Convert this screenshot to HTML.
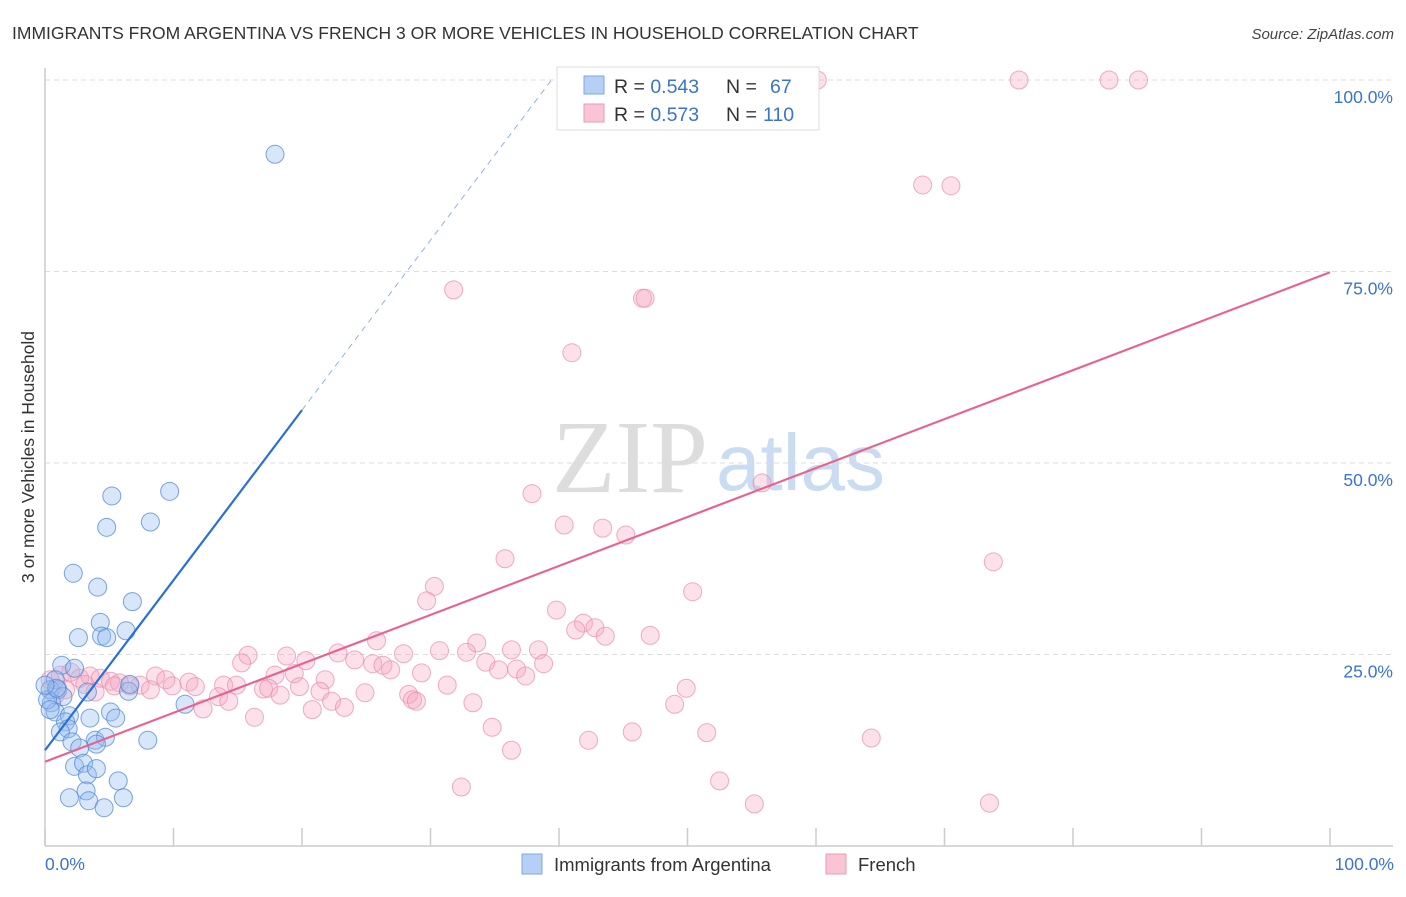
<!DOCTYPE html>
<html><head><meta charset="utf-8"><style>
body{margin:0;background:#fff;font-family:"Liberation Sans",sans-serif}
svg text{font-family:"Liberation Sans",sans-serif}
</style></head><body>
<svg id="chart" width="1406" height="892" xmlns="http://www.w3.org/2000/svg">
<text x="12" y="39" font-size="17.5" fill="#333">IMMIGRANTS FROM ARGENTINA VS FRENCH 3 OR MORE VEHICLES IN HOUSEHOLD CORRELATION CHART</text>
<text x="1394" y="39" font-size="15" fill="#444" text-anchor="end" font-style="italic">Source: ZipAtlas.com</text>
<g>
<text x="552" y="492" font-size="104" fill="#ddd" style="font-family:'Liberation Serif',serif">ZIP</text>
<text x="716" y="490" font-size="80" fill="#c9dcf2">atlas</text>
</g>
<g id="grid"></g>
<g id="axes"></g>
<g id="pts"></g>
<g id="trends"></g>
<text transform="translate(34,457) rotate(-90)" font-size="17.5" fill="#333" text-anchor="middle">3 or more Vehicles in Household</text>
<text x="45" y="870" font-size="17.5" fill="#3b73d0">0.0%</text>
<text x="1394" y="870" font-size="17.5" fill="#3b73d0" text-anchor="end">100.0%</text>
<g>
<rect x="557" y="67" width="262" height="63" fill="#fff" stroke="#ddd"/>
<rect x="584" y="76" width="20" height="18" fill="#b6d0f5" stroke="#7ea6e6"/>
<rect x="584" y="104" width="20" height="18" fill="#f9c5d5" stroke="#eb9ab4"/>
<text x="614" y="93" font-size="19.5" fill="#333">R = <tspan fill="#3b73d0">0.543</tspan><tspan x="726">N = </tspan><tspan x="770" fill="#3b73d0">67</tspan></text>
<text x="614" y="121" font-size="19.5" fill="#333">R = <tspan fill="#3b73d0">0.573</tspan><tspan x="726">N = </tspan><tspan x="763" fill="#3b73d0">110</tspan></text>
</g>
<g>
<rect x="522" y="854" width="20" height="20" fill="#b6d0f5" stroke="#7ea6e6"/>
<text x="554" y="871" font-size="18.5" fill="#333">Immigrants from Argentina</text>
<rect x="826" y="854" width="20" height="20" fill="#f9c5d5" stroke="#eb9ab4"/>
<text x="858" y="871" font-size="18.5" fill="#333">French</text>
</g>
</svg>
<script>
const yTicks=[25,50,75,100];
const yTickLabels=["25.0%","50.0%","75.0%","100.0%"];
const xTicks=[0,10,20,30,40,50,60,70,80,90,100];
const blueX=[17.9,5.2,9.7,4.8,8.2,2.2,4.1,6.8,4.3,6.3,2.6,4.4,4.8,1.3,2.3,0.8,0.4,1.0,1.4,0.5,3.3,6.5,6.6,10.9,0.8,1.9,3.5,5.1,5.5,1.6,1.8,1.2,3.9,4.7,2.1,2.7,8.0,4.0,2.3,3.0,3.3,4.0,5.7,3.2,1.9,3.4,6.1,4.6,0.2,0.4,0.9,0.0];
const blueY=[90.3,45.7,46.3,41.6,42.3,35.6,33.8,31.9,29.2,28.1,27.2,27.4,27.2,23.6,23.2,21.7,20.4,20.4,19.5,18.7,20.1,20.2,21.1,18.5,17.5,17.0,16.7,17.5,16.7,16.2,15.3,14.9,13.8,14.2,13.6,12.8,13.8,13.3,10.4,10.8,9.3,10.1,8.5,7.2,6.3,5.9,6.3,5.0,19.1,17.8,20.6,21.0];
const pinkX=[47.9,52.5,60.1,75.8,82.8,85.1,68.3,70.5,31.8,46.5,46.7,41,55.8,37.9,40.4,43.4,45.2,35.8,73.8,30.3,29.7,50.4,39.8,41.9,42.8,41.3,43.6,47.1,25.8,33.6,30.7,32.8,36.3,38.4,15.8,18.8,22.8,27.9,15.3,20.3,24.1,25.5,26.3,34.3,38.8,26.9,35.3,36.7,37.4,17.9,19.4,29.3,21.8,8.6,9.4,9.9,11.2,11.7,13.9,14.9,17.0,17.4,19.8,21.4,24.9,31.3,49.9,28.3,28.6,28.9,18.3,22.3,23.3,33.3,49.0,13.5,14.3,12.3,20.8,16.3,34.8,45.7,51.5,64.3,42.3,36.3,52.5,32.4,55.2,73.5,0.4,1.2,2.0,2.7,3.5,4.3,5.1,5.8,6.6,7.4,8.2,5.4,3.1,1.6,0.8,3.9];
const pinkY=[100,100,100,100,100,100,86.3,86.2,72.6,71.5,71.5,64.4,47.4,46.0,41.9,41.5,40.6,37.5,37.1,33.9,32.0,33.2,30.8,29.1,28.5,28.2,27.4,27.5,26.8,26.5,25.5,25.3,25.6,25.6,24.9,24.8,25.2,25.1,23.9,24.2,24.3,23.8,23.6,24.0,23.8,23.0,23.0,23.1,22.2,22.3,22.5,22.6,21.7,22.2,21.7,20.9,21.4,20.8,21.0,21.0,20.5,20.6,20.8,20.2,20.0,21.0,20.6,19.8,19.1,18.9,19.7,18.9,18.1,18.7,18.5,19.5,18.9,17.9,17.8,16.8,15.5,14.9,14.8,14.1,13.8,12.5,8.5,7.7,5.5,5.6,21.7,22.3,22.7,21.9,22.2,21.9,21.5,21.3,20.9,21.0,20.4,20.9,21.1,20.4,19.7,20.1];
const blueTrend=[12.5,2.22];   // intercept, slope
const pinkTrend=[11.0,0.639];
const X=v=>45+v*12.85, Y=v=>846-v*7.66;
const NS="http://www.w3.org/2000/svg";
function mk(tag,attrs,parent){const e=document.createElementNS(NS,tag);for(const k in attrs)e.setAttribute(k,attrs[k]);parent.appendChild(e);return e;}
const grid=document.getElementById('grid'),axes=document.getElementById('axes'),pts=document.getElementById('pts'),tr=document.getElementById('trends');
yTicks.forEach((t,i)=>{
 const l=mk('line',{x1:45,x2:1393,y1:Y(t),y2:Y(t),stroke:'#ddd','stroke-dasharray':'5,4'},grid);
 
 
 const tx=mk('text',{x:1393,y:Y(t)+23,'font-size':17.5,fill:'#3b73d0','text-anchor':'end'},grid);
 tx.textContent=yTickLabels[i];
 
 
});
const ya=mk('line',{x1:45,x2:45,y1:68,y2:846,stroke:'#ccc','stroke-width':1.5},axes);


const xa=mk('line',{x1:45,x2:1393,y1:846,y2:846,stroke:'#ccc','stroke-width':1.5},axes);


xTicks.forEach(t=>{
 const l=mk('line',{x1:X(t),x2:X(t),y1:828,y2:846,stroke:'#ccc','stroke-width':1.5},axes);
 
 
});
pinkX.forEach((v,i)=>{
 const c=mk('circle',{cx:X(v),cy:Y(pinkY[i]),r:9,fill:'rgba(245,165,192,0.33)',stroke:'rgba(232,140,170,0.7)','stroke-width':1},pts);
 
 
});
blueX.forEach((v,i)=>{
 const c=mk('circle',{cx:X(v),cy:Y(blueY[i]),r:9,fill:'rgba(150,188,240,0.38)',stroke:'rgba(80,135,215,0.75)','stroke-width':1},pts);
 
 
});
const bEnd=(100-blueTrend[0])/blueTrend[1];
const b1=mk('line',{x1:X(0),y1:Y(blueTrend[0]),x2:X(20),y2:Y(blueTrend[0]+20*blueTrend[1]),stroke:'#2a6fd6','stroke-width':2.2},tr);


const b2=mk('line',{x1:X(20),y1:Y(blueTrend[0]+20*blueTrend[1]),x2:X(bEnd),y2:Y(100),stroke:'#8fb2e6','stroke-width':1,'stroke-dasharray':'6,5'},tr);


const p1=mk('line',{x1:X(0),y1:Y(pinkTrend[0]),x2:X(100),y2:Y(pinkTrend[0]+100*pinkTrend[1]),stroke:'#e8628f','stroke-width':2.2},tr);


</script>
</body></html>
